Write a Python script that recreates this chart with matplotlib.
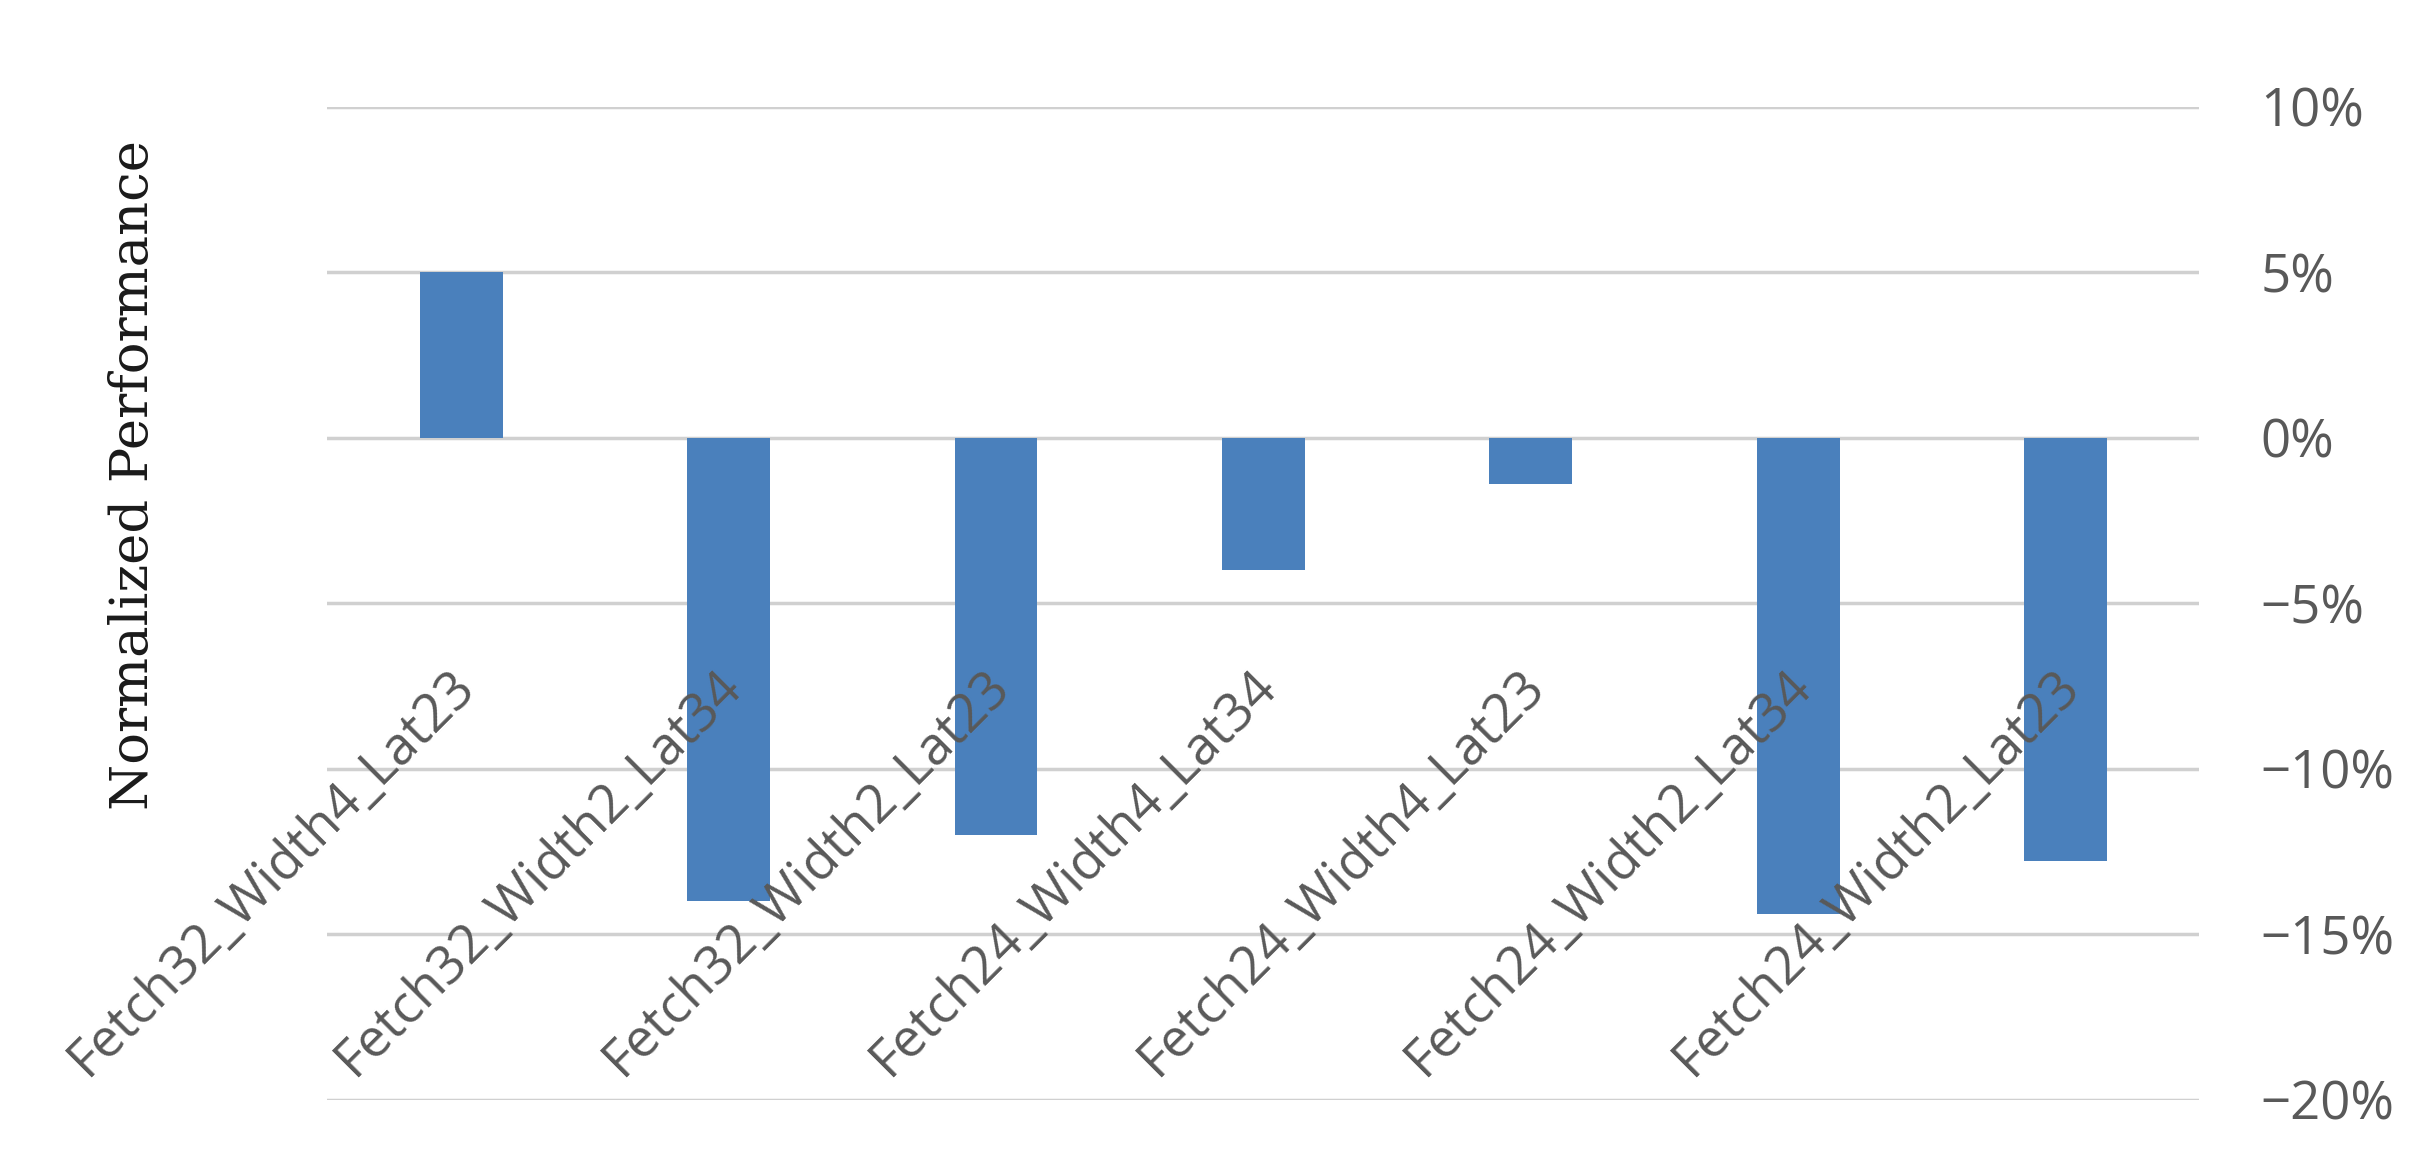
import matplotlib
matplotlib.use("Agg")
import matplotlib.pyplot as plt
from matplotlib.ticker import FuncFormatter

categories = ["Fetch32_Width4_Lat23", "Fetch32_Width2_Lat34", "Fetch32_Width2_Lat23",
              "Fetch24_Width4_Lat34", "Fetch24_Width4_Lat23", "Fetch24_Width2_Lat34",
              "Fetch24_Width2_Lat23"]
values = [5.0, -14.0, -12.0, -4.0, -1.4, -14.4, -12.8]
yticks = [10, 5, 0, -5, -10, -15, -20]

grey = "#595959"
fig = plt.figure(figsize=(24.25, 11.71), dpi=100)
ax = fig.add_axes([0.135, 0.061, 0.772, 0.848])
x = list(range(len(categories)))
ax.bar(x, values, width=0.31, color="#4A80BC", zorder=3)
ax.set_xlim(-0.5, len(categories) - 0.5)
ax.set_ylim(-20, 10)
ax.set_yticks(yticks)
ax.yaxis.set_major_formatter(FuncFormatter(lambda v, p: f"{int(v)}%".replace("-", "\u2212")))
ax.yaxis.tick_right()
ax.tick_params(axis="y", length=0, pad=44, labelsize=38, labelcolor=grey)
for lab in ax.get_yticklabels():
    lab.set_family("Open Sans")
ax.set_xticks([])
ax.grid(axis="y", color="#D0D0D0", linewidth=2.5, zorder=0)
for s in ax.spines.values():
    s.set_visible(False)
for xi, c in zip(x, categories):
    ax.text(xi - 0.05, -6.7, c, rotation=45, ha="right", va="top", rotation_mode="anchor",
            fontsize=38, color=grey, family="Open Sans", zorder=4)
fig.text(0.055, 0.594, "Normalized Performance", rotation=90, ha="center", va="center",
         fontsize=38, family="DejaVu Serif", color="#1a1a1a")
fig.savefig("out.png", dpi=100)
